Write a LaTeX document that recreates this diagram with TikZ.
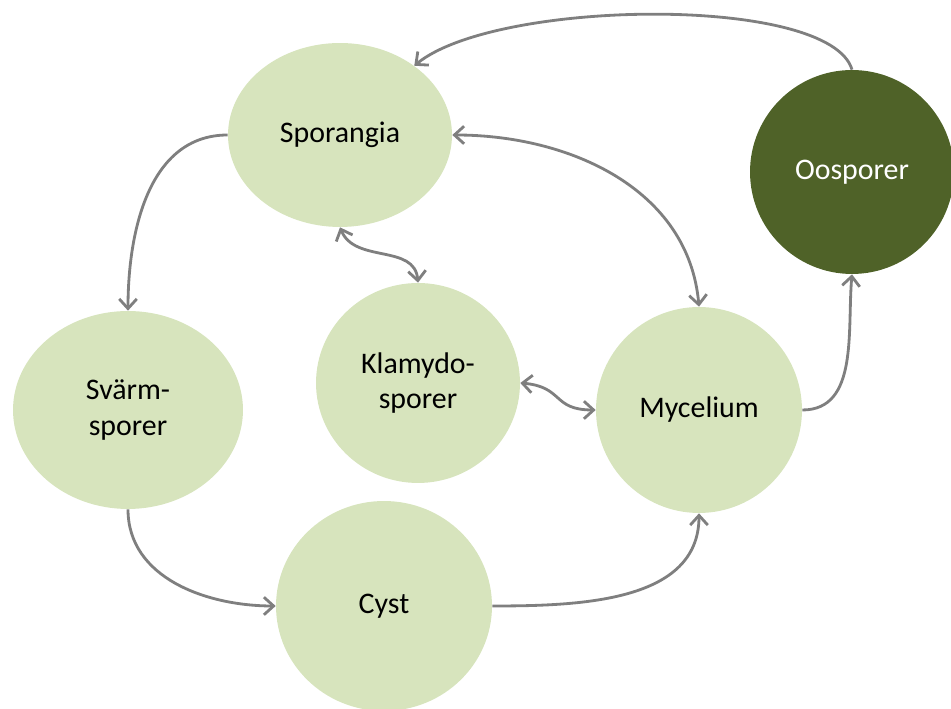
\documentclass[tikz,border=0pt]{standalone}
\usepackage{fontspec}
\setmainfont{Carlito}
\usepackage{tikz}
\usetikzlibrary{arrows.meta,shapes.geometric}
\definecolor{lightolive}{HTML}{D7E4BD}
\definecolor{darkolive}{HTML}{4F6228}
\definecolor{linegray}{HTML}{7F7F7F}

\begin{document}
\begin{tikzpicture}[x=0.02cm, y=0.02cm,
  stage/.style={ellipse, fill=lightolive, inner sep=0pt, align=center, font=\fontsize{17}{20}\selectfont},
  flow/.style={draw=linegray, line width=1.6pt, -{Straight Barb[length=5.5pt, width=10pt]}},
  twoway/.style={flow, {Straight Barb[length=5.5pt, width=10pt]}-{Straight Barb[length=5.5pt, width=10pt]}}]
\useasboundingbox (0,0) rectangle (951,709);
% life cycle stages
\node[stage, minimum width=4.48cm, minimum height=3.68cm] (spor) at (340,574) {Sporangia};
\node[stage, circle, fill=darkolive, text=white, minimum size=4.08cm] (oos) at (852,537) {Oosporer};
\node[stage, minimum width=4.6cm, minimum height=3.96cm] (svarm) at (128,299) {Svärm-\\sporer};
\node[stage, minimum width=4.08cm, minimum height=4cm] (klam) at (418,326) {Klamydo-\\sporer};
\node[stage, minimum width=4.12cm, minimum height=4.12cm] (myc) at (699,299) {Mycelium};
\node[stage, minimum width=4.32cm, minimum height=4.2cm] (cyst) at (384,103) {Cyst};
% transitions
\draw[flow] (oos.north) .. controls +(-22,75) and +(82,67) .. (spor.43);
\draw[flow] (spor.west) to[out=180, in=90] (svarm.north);
\draw[flow] (svarm.south) to[out=-90, in=180] (cyst.west);
\draw[flow] (cyst.east) to[out=0, in=-90] (myc.south);
\draw[flow] (myc.east) to[out=0, in=-95] (oos.south);
\draw[twoway] (spor.east) to[out=0, in=95] (myc.north);
\draw[twoway] (spor.south) to[out=-68, in=95, looseness=1.05] (klam.north);
\draw[twoway] (klam.east) to[out=-5, in=180, looseness=1.4] (myc.west);
\end{tikzpicture}
\end{document}
